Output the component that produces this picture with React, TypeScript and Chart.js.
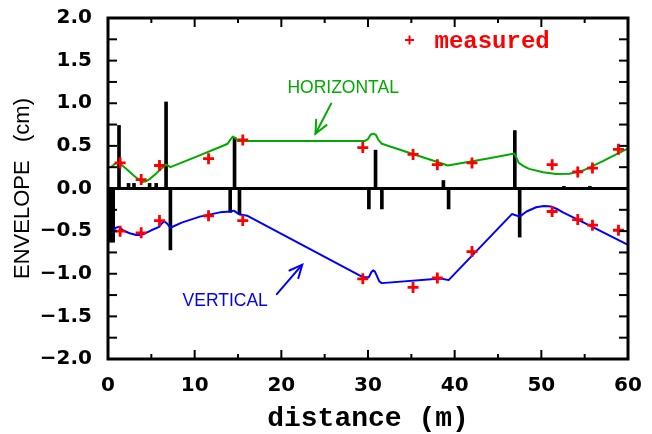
import React, { useEffect, useRef } from 'react';
import { Chart, registerables } from 'chart.js';

Chart.register(...registerables);

// ---------- data ----------
const horizEnvX = [0.35, 0.8, 1.3, 2.0, 3.0, 3.6, 4.0, 4.4, 4.8, 5.5, 6.1, 6.7, 7.2, 10.0, 13.0, 13.8, 14.1, 14.4, 14.7, 15.0, 20, 25, 29.6, 30.0, 30.3, 30.6, 30.9, 31.2, 31.6, 35, 38, 39.2, 41.7, 44, 46.9, 47.4, 48.0, 48.6, 50.2, 51.7, 53.25, 54.8, 57.1, 60];
const horizEnvY = [0.25, 0.29, 0.30, 0.24, 0.15, 0.10, 0.075, 0.085, 0.11, 0.17, 0.23, 0.28, 0.25, 0.365, 0.49, 0.525, 0.57, 0.61, 0.59, 0.556, 0.556, 0.556, 0.556, 0.58, 0.63, 0.643, 0.63, 0.57, 0.525, 0.41, 0.31, 0.27, 0.315, 0.355, 0.41, 0.30, 0.26, 0.23, 0.19, 0.17, 0.174, 0.21, 0.32, 0.47];

const vertEnvX = [0.4, 0.6, 0.9, 1.25, 1.5, 1.7, 2.5, 3.25, 3.7, 4.2, 5.0, 5.9, 6.2, 6.5, 6.8, 7.2, 8.5, 10.6, 12.9, 14.2, 14.5, 15.2, 16.1, 29.4, 30.1, 30.4, 30.6, 30.8, 31.0, 31.3, 31.6, 38.4, 39.3, 46.6, 47.5, 48.3, 49.4, 50.3, 51.1, 51.8, 52.5, 55.6, 60];
const vertEnvY = [-0.52, -0.50, -0.46, -0.45, -0.47, -0.49, -0.525, -0.545, -0.545, -0.53, -0.49, -0.45, -0.41, -0.385, -0.41, -0.46, -0.40, -0.33, -0.28, -0.27, -0.26, -0.306, -0.32, -1.04, -1.04, -0.98, -0.96, -0.975, -1.02, -1.09, -1.11, -1.055, -1.075, -0.30, -0.33, -0.27, -0.22, -0.205, -0.21, -0.24, -0.28, -0.435, -0.66];

const measuredX = [1.4, 3.83, 5.94, 11.6, 15.55, 29.4, 35.2, 38.0, 42.0, 51.25, 54.2, 55.9, 58.9];
const measuredHoriz = [0.30, 0.105, 0.27, 0.35, 0.57, 0.48, 0.40, 0.28, 0.30, 0.28, 0.195, 0.24, 0.46];
const measuredVert = [-0.50, -0.52, -0.376, -0.32, -0.376, -1.06, -1.16, -1.05, -0.74, -0.27, -0.365, -0.43, -0.49];

const upperElemX = [1.27, 2.37, 3.0, 4.8, 5.56, 6.7, 14.6, 30.87, 38.7, 46.94, 52.6, 55.6];
const upperElemH = [0.74, 0.06, 0.06, 0.06, 0.06, 1.015, 0.60, 0.45, 0.094, 0.68, 0.025, 0.025];
const lowerElemX = [0.3, 0.6, 7.2, 14.1, 15.17, 30.1, 31.6, 39.3, 47.5];
const lowerElemH = [-0.63, -0.63, -0.72, -0.28, -0.30, -0.24, -0.24, -0.24, -0.57];

const xTickValues = [0, 10, 20, 30, 40, 50, 60];
const yTickValues = [-2.0, -1.5, -1.0, -0.5, 0.0, 0.5, 1.0, 1.5, 2.0];
const X_MIN = 0, X_MAX = 60, Y_MIN = -2, Y_MAX = 2;
const X_MINOR = 5, Y_MINOR = 0.25;

const X_TITLE = 'distance (m)';
const Y_TITLE = 'ENVELOPE   (cm)';
const LEGEND_TEXT = 'measured';
const LABEL_H = 'HORIZONTAL';
const LABEL_V = 'VERTICAL';

const GREEN = '#00aa00';
const BLUE = '#0000ff';
const RED = '#ff0000';

// annotation anchors in data coordinates
const annH = { x: 20.7, y: 1.12, ax1: 25.75, ay1: 0.996, ax2: 23.94, ay2: 0.643 };
const annV = { x: 8.6, y: -1.376, ax1: 19.48, ay1: -1.239, ax2: 22.41, ay2: -0.894 };
const legendPos = { mx: 34.79, my: 1.741, tx: 37.67, ty: 1.65 };

function fmtY(v: number) {
  if (Math.abs(v) < 1e-9) return '0.0';
  return v.toFixed(1).replace('-', '\u2212');
}

const framePlugin = {
  id: 'frameTicks',
  afterDatasetsDraw(chart: any) {
    const { ctx, chartArea: a, scales } = chart;
    const xs = scales.x, ys = scales.y;
    const seg = (x1: number, y1: number, x2: number, y2: number) => {
      ctx.beginPath(); ctx.moveTo(x1, y1); ctx.lineTo(x2, y2); ctx.stroke();
    };
    ctx.save();
    ctx.strokeStyle = '#000';
    ctx.lineCap = 'butt';
    ctx.lineWidth = 3;
    const y0 = ys.getPixelForValue(0);
    seg(a.left, y0, a.right, y0);
    ctx.lineWidth = 2;
    for (let v = X_MIN; v <= X_MAX + 1e-9; v += X_MINOR) {
      const px = xs.getPixelForValue(v);
      const len = xTickValues.includes(v) ? 9 : 5;
      seg(px, a.bottom, px, a.bottom - len);
      seg(px, a.top, px, a.top + len);
    }
    for (let v = Y_MIN; v <= Y_MAX + 1e-9; v += Y_MINOR) {
      const py = ys.getPixelForValue(v);
      seg(a.left, py, a.left + 9, py);
      seg(a.right, py, a.right - 9, py);
    }
    ctx.lineWidth = 3;
    ctx.strokeRect(a.left, a.top, a.right - a.left, a.bottom - a.top);
    ctx.restore();
  },
  afterDraw(chart: any) {
    const { ctx, chartArea: a, scales } = chart;
    const xs = scales.x, ys = scales.y;
    const X = (v: number) => xs.getPixelForValue(v);
    const Y = (v: number) => ys.getPixelForValue(v);
    ctx.save();
    // axis titles
    ctx.fillStyle = '#000';
    ctx.font = "bold 28px 'Liberation Mono'";
    ctx.textAlign = 'center';
    ctx.textBaseline = 'alphabetic';
    ctx.fillText(X_TITLE, (a.left + a.right) / 2, 426);
    ctx.save();
    ctx.translate(23, (a.top + a.bottom) / 2);
    ctx.rotate(-Math.PI / 2);
    ctx.font = "22px 'Liberation Sans'";
    ctx.textBaseline = 'middle';
    ctx.fillText(Y_TITLE, 0, 0);
    ctx.restore();

    // curve labels
    ctx.textAlign = 'left';
    ctx.textBaseline = 'alphabetic';
    ctx.font = "17.5px 'Liberation Sans'";
    ctx.fillStyle = GREEN;
    ctx.fillText(LABEL_H, X(annH.x), Y(annH.y));
    ctx.fillStyle = BLUE;
    ctx.fillText(LABEL_V, X(annV.x), Y(annV.y));

    const arrow = (x1: number, y1: number, x2: number, y2: number, color: string) => {
      const p1x = X(x1), p1y = Y(y1), p2x = X(x2), p2y = Y(y2);
      ctx.strokeStyle = color;
      ctx.lineWidth = 2;
      ctx.lineCap = 'round';
      ctx.beginPath(); ctx.moveTo(p1x, p1y); ctx.lineTo(p2x, p2y); ctx.stroke();
      const ang = Math.atan2(p1y - p2y, p1x - p2x);
      const L = 14, w = 0.43;
      ctx.beginPath();
      ctx.moveTo(p2x + L * Math.cos(ang - w), p2y + L * Math.sin(ang - w));
      ctx.lineTo(p2x, p2y);
      ctx.lineTo(p2x + L * Math.cos(ang + w), p2y + L * Math.sin(ang + w));
      ctx.stroke();
    };
    arrow(annH.ax1, annH.ay1, annH.ax2, annH.ay2, GREEN);
    arrow(annV.ax1, annV.ay1, annV.ax2, annV.ay2, BLUE);

    // legend
    const mx = X(legendPos.mx), my = Y(legendPos.my);
    ctx.strokeStyle = RED;
    ctx.lineWidth = 2;
    ctx.lineCap = 'butt';
    ctx.beginPath();
    ctx.moveTo(mx - 4.5, my); ctx.lineTo(mx + 4.5, my);
    ctx.moveTo(mx, my - 4.5); ctx.lineTo(mx, my + 4.5);
    ctx.stroke();
    ctx.fillStyle = RED;
    ctx.font = "bold 24px 'Liberation Mono'";
    ctx.fillText(LEGEND_TEXT, X(legendPos.tx), Y(legendPos.ty));
    ctx.restore();
  },
};

export default function App() {
  const ref = useRef<HTMLCanvasElement | null>(null);
  useEffect(() => {
    if (!ref.current) return;
    const pts = (xs: number[], ys: number[]) => xs.map((x, i) => ({ x, y: ys[i] }));
    const bars = (xs: number[], hs: number[]) => xs.map((x, i) => ({ x, y: [0, hs[i]] }));
    const chart = new Chart(ref.current, {
      type: 'line',
      data: {
        datasets: [
          {
            type: 'line', label: 'measured H', data: pts(measuredX, measuredHoriz) as any,
            showLine: false, pointStyle: 'cross', pointRadius: 5.5, borderColor: RED, borderWidth: 2.8,
            backgroundColor: RED,
          },
          {
            type: 'line', label: 'measured V', data: pts(measuredX, measuredVert) as any,
            showLine: false, pointStyle: 'cross', pointRadius: 5.5, borderColor: RED, borderWidth: 2.8,
            backgroundColor: RED,
          },
          {
            type: 'line', label: 'horizontal', data: pts(horizEnvX, horizEnvY) as any,
            borderColor: GREEN, borderWidth: 2, pointRadius: 0, tension: 0, fill: false,
            borderJoinStyle: 'round',
          },
          {
            type: 'line', label: 'vertical', data: pts(vertEnvX, vertEnvY) as any,
            borderColor: BLUE, borderWidth: 2, pointRadius: 0, tension: 0, fill: false,
            borderJoinStyle: 'round',
          },
          {
            type: 'bar', label: 'elements up', data: bars(upperElemX, upperElemH) as any,
            backgroundColor: '#000', borderWidth: 0, barThickness: 3, grouped: false,
          } as any,
          {
            type: 'bar', label: 'elements down', data: bars(lowerElemX, lowerElemH) as any,
            backgroundColor: '#000', borderWidth: 0, barThickness: 3, grouped: false,
          } as any,
        ],
      },
      options: {
        responsive: false,
        animation: false,
        events: [],
        layout: { padding: { left: 0, right: 24, top: 18, bottom: 0 } },
        plugins: { legend: { display: false }, tooltip: { enabled: false } },
        scales: {
          x: {
            type: 'linear', min: X_MIN, max: X_MAX, offset: false,
            grid: { display: false, drawTicks: false },
            border: { display: false },
            afterFit: (s: any) => { s.height = 75; s.paddingLeft = 0; s.paddingRight = 0; },
            afterBuildTicks: (s: any) => { s.ticks = xTickValues.map((v) => ({ value: v })); },
            ticks: {
              autoSkip: false, maxRotation: 0, padding: 15, color: '#000',
              font: { family: 'DejaVu Sans', weight: 'bold', size: 20 },
              callback: (v: any) => String(v),
            },
          },
          y: {
            type: 'linear', min: Y_MIN, max: Y_MAX,
            grid: { display: false, drawTicks: false },
            border: { display: false },
            afterFit: (s: any) => { s.width = 108; s.paddingTop = 0; s.paddingBottom = 0; },
            afterBuildTicks: (s: any) => { s.ticks = yTickValues.map((v) => ({ value: v })); },
            ticks: {
              autoSkip: false, padding: 16, color: '#000',
              font: { family: 'DejaVu Sans', weight: 'bold', size: 20 },
              callback: (v: any) => fmtY(Number(v)),
            },
          },
        },
      } as any,
      plugins: [framePlugin],
    });
    return () => chart.destroy();
  }, []);
  return (
    <div style={{ position: 'absolute', left: 0, top: 0, width: 652, height: 434, background: '#fff' }}>
      <canvas ref={ref} width={652} height={434} />
    </div>
  );
}
